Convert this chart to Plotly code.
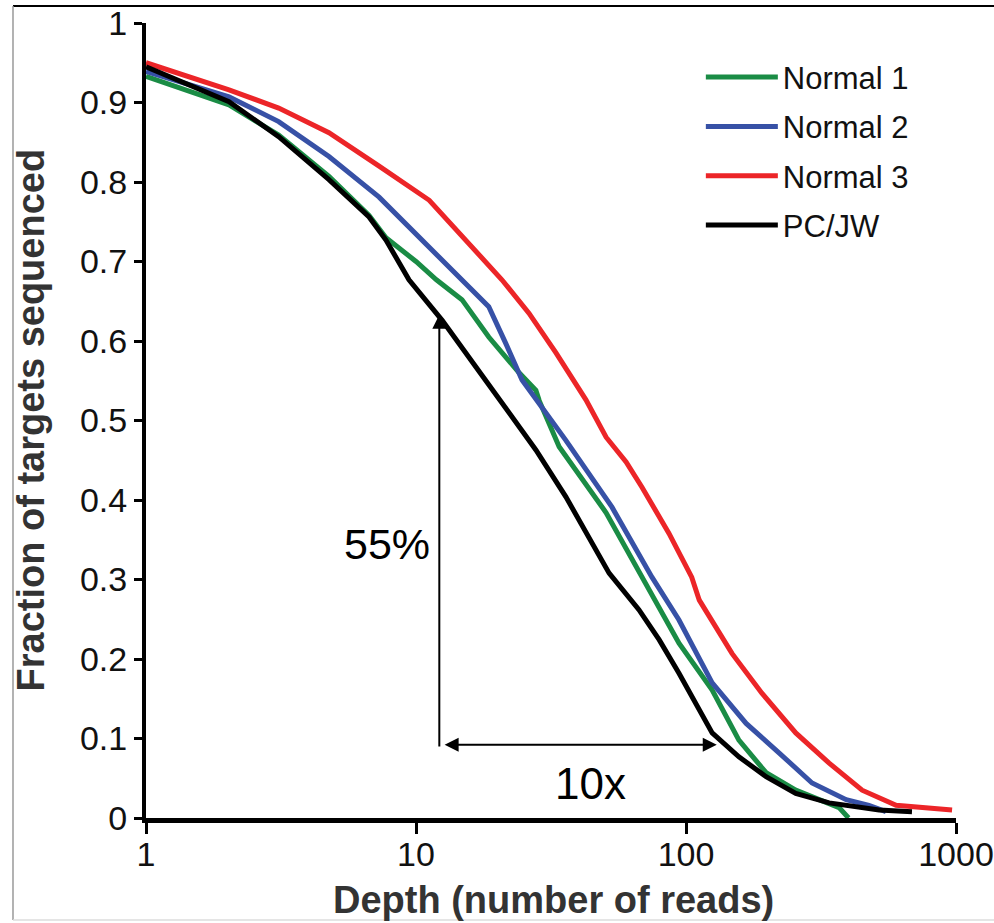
import plotly.graph_objects as go
import math

# ---- data ----
normal1_depth = [1, 2.03, 3.1, 4.76, 6.7, 7.74, 10, 11.9, 14.8, 18.6, 24.1, 27.8, 28.6, 33.9, 50.6, 68.7, 94.2, 125, 157, 198, 255, 369, 400]
normal1_frac = [0.933, 0.897, 0.859, 0.807, 0.758, 0.73, 0.70, 0.677, 0.652, 0.605, 0.560, 0.538, 0.525, 0.467, 0.384, 0.303, 0.22, 0.161, 0.098, 0.057, 0.035, 0.013, 0.0]

normal2_depth = [1, 2.03, 3.1, 4.76, 7.3, 10, 12.2, 14.8, 18.6, 21.5, 24.7, 35.9, 53.2, 74.8, 94.2, 125, 167, 221, 293, 392, 476, 550]
normal2_frac = [0.939, 0.907, 0.876, 0.832, 0.781, 0.735, 0.704, 0.677, 0.643, 0.597, 0.551, 0.475, 0.391, 0.303, 0.249, 0.17, 0.119, 0.082, 0.044, 0.023, 0.016, 0.008]

normal3_depth = [1, 2.03, 3.1, 4.76, 7.3, 11.2, 20.8, 26.2, 33.0, 42.6, 50.6, 60.0, 68.7, 86.5, 105, 112, 148, 191, 255, 339, 449, 600, 967]
normal3_frac = [0.95, 0.916, 0.893, 0.862, 0.82, 0.777, 0.677, 0.635, 0.585, 0.526, 0.479, 0.448, 0.416, 0.358, 0.303, 0.274, 0.207, 0.157, 0.107, 0.069, 0.035, 0.016, 0.01]

pcjw_depth = [1, 2.03, 3.1, 4.76, 6.7, 7.74, 9.42, 12.5, 16.7, 20.8, 27.8, 35.9, 42.6, 51.9, 66.9, 79.6, 94.2, 125, 157, 198, 255, 339, 519, 687]
pcjw_frac = [0.945, 0.901, 0.857, 0.803, 0.756, 0.727, 0.677, 0.626, 0.567, 0.522, 0.463, 0.404, 0.358, 0.308, 0.262, 0.224, 0.182, 0.107, 0.077, 0.052, 0.031, 0.019, 0.01, 0.008]

series_names = ["Normal 1", "Normal 2", "Normal 3", "PC/JW"]
x_tick_vals = [1, 10, 100, 1000]
x_tick_text = ["1", "10", "100", "1000"]
y_tick_vals = [0, 0.1, 0.2, 0.3, 0.4, 0.5, 0.6, 0.7, 0.8, 0.9, 1]
y_tick_text = ["0", "0.1", "0.2", "0.3", "0.4", "0.5", "0.6", "0.7", "0.8", "0.9", "1"]
x_title = "Depth (number of reads)"
y_title = "Fraction of targets sequenced"

colors = ["#1a8c45", "#3751a6", "#ec2528", "#000000"]
FONT = "Liberation Sans, Arial, sans-serif"

fig = go.Figure()
for i, (name, xs, ys) in enumerate(zip(
        series_names,
        [normal1_depth, normal2_depth, normal3_depth, pcjw_depth],
        [normal1_frac, normal2_frac, normal3_frac, pcjw_frac])):
    fig.add_trace(go.Scatter(x=xs, y=ys, mode="lines", name=name,
                             legendgroup=name,
                             line=dict(color=colors[i], width=5)))

fig.update_layout(
    width=994, height=923,
    margin=dict(l=146, r=38, t=23, b=105),
    paper_bgcolor="white", plot_bgcolor="white",
    font=dict(family=FONT, color="#111"),
    showlegend=True,
    legend=dict(x=0.685, y=0.9655, xanchor="left", yanchor="top",
                font=dict(size=31, color="#111"), tracegroupgap=6,
                traceorder="grouped", itemwidth=72, bgcolor="rgba(0,0,0,0)"),
    xaxis=dict(type="log", range=[0, 3], tickvals=x_tick_vals, ticktext=x_tick_text,
               automargin=False,
               showgrid=False, zeroline=False, showline=True, linecolor="black", linewidth=5,
               ticks="outside", ticklen=11, tickwidth=3, tickcolor="black",
               ticklabelstandoff=-9,
               tickfont=dict(size=34, color="#111")),
    yaxis=dict(range=[0, 1], tickvals=y_tick_vals, ticktext=y_tick_text,
               automargin=False,
               showgrid=False, zeroline=False, showline=True, linecolor="black", linewidth=4,
               ticks="outside", ticklen=8, tickwidth=3, tickcolor="black",
               tickfont=dict(size=34, color="#111")),
)

# axis titles
fig.add_annotation(x=0.5025, y=-0.103, xref="paper", yref="paper", text="<b>" + x_title + "</b>",
                   showarrow=False, xanchor="center", yanchor="middle",
                   font=dict(size=38, color="#333"))
fig.add_annotation(x=-0.1432, y=0.5, xref="paper", yref="paper", text="<b>" + y_title + "</b>",
                   showarrow=False, xanchor="center", yanchor="middle", textangle=-90,
                   font=dict(size=38, color="#333"))

# annotation arrows (log axis annotations take log10 positions)
fig.add_annotation(x=math.log10(12.2), y=0.633, ax=math.log10(12.2), ay=0.088,
                   xref="x", yref="y", axref="x", ayref="y", text="",
                   showarrow=True, arrowhead=2, arrowsize=1.4, arrowwidth=2, arrowcolor="black")
fig.add_annotation(x=math.log10(130), y=0.092, ax=math.log10(12.6), ay=0.092,
                   xref="x", yref="y", axref="x", ayref="y", text="",
                   showarrow=True, arrowhead=2, arrowside="end+start", arrowsize=1.4, arrowwidth=2,
                   arrowcolor="black")
fig.add_annotation(x=math.log10(7.8), y=0.345, xref="x", yref="y", text="55%", showarrow=False,
                   font=dict(size=43, color="black"))
fig.add_annotation(x=math.log10(44.3), y=0.044, xref="x", yref="y", text="10x", showarrow=False,
                   font=dict(size=44, color="black"))

# picture frame
fig.add_shape(type="line", xref="paper", yref="paper", x0=-0.1642, x1=1.06, y0=1.0214, y1=1.0214,
              line=dict(color="black", width=2))
fig.add_shape(type="line", xref="paper", yref="paper", x0=-0.1642, x1=-0.1642, y0=1.0214, y1=-0.1283,
              line=dict(color="#999", width=1.5))
fig.add_shape(type="line", xref="paper", yref="paper", x0=-0.1642, x1=1.06, y0=-0.1283, y1=-0.1283,
              line=dict(color="#ddd", width=1.5))

fig.write_html("out.html", config={"displayModeBar": False},
               post_script="document.body.style.margin='0';")
